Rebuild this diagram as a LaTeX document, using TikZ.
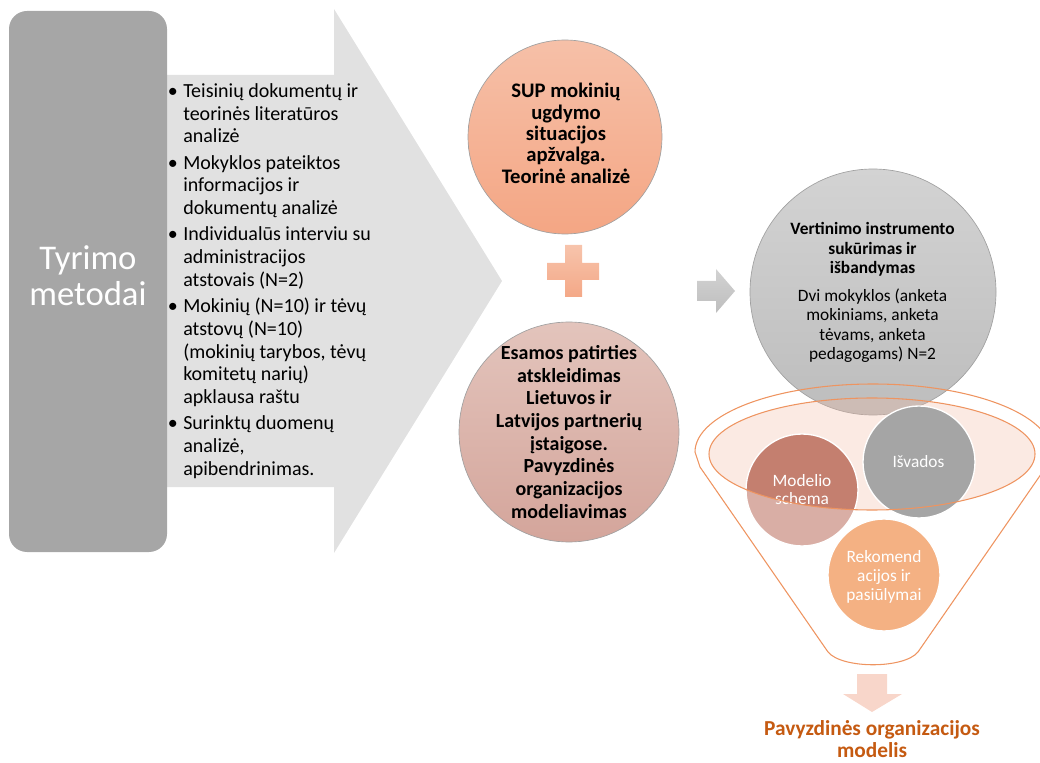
\documentclass[tikz,border=0pt]{standalone}
\usepackage{fontspec}
\setmainfont{Carlito}
\definecolor{rectgray}{HTML}{A6A6A6}
\definecolor{arrowgray}{HTML}{E1E1E1}
\definecolor{supTop}{HTML}{F6C0A8}
\definecolor{supBot}{HTML}{F4A684}
\definecolor{esTop}{HTML}{E3C4BC}
\definecolor{esBot}{HTML}{D4A59B}
\definecolor{plusTop}{HTML}{F7C4AC}
\definecolor{plusBot}{HTML}{F4A887}
\definecolor{smallTop}{HTML}{D2D2D2}
\definecolor{smallBot}{HTML}{BEBEBE}
\definecolor{verTop}{HTML}{D3D3D3}
\definecolor{verBot}{HTML}{BDBDBD}
\definecolor{peach}{HTML}{F1B9A2}
\definecolor{oline}{HTML}{EE9460}
\definecolor{modDark}{HTML}{C47F6F}
\definecolor{modLight}{HTML}{D9AEA5}
\definecolor{isvgray}{HTML}{A5A5A5}
\definecolor{rekom}{HTML}{F4B183}
\definecolor{downarrow}{HTML}{F8D6CA}
\definecolor{titleorange}{HTML}{C55A11}
\definecolor{circline}{HTML}{A0A0A0}
\tikzset{
  txt/.style={inner sep=0pt, anchor=base},
  smallcirc/.style={draw=white, line width=1pt},
  funnelline/.style={draw=oline, line width=0.8pt}
}
\begin{document}
\begin{tikzpicture}[x=0.75pt,y=-0.75pt]
\useasboundingbox (0,0) rectangle (1040,763);
% big arrow
\fill[arrowgray] (160,75) -- (334,75) -- (334,9) -- (502,281) -- (334,553) -- (334,487) -- (160,487) -- cycle;
% left rounded rectangle
\fill[rectgray, rounded corners=13.5pt] (9,11) rectangle (167,552);
\node[txt, text=white] (tm) at (88,270) {\parbox[t]{150pt}{\centering\fontsize{26}{27}\selectfont Tyrimo\\metodai\par}};
% bullets
\node[inner sep=0pt, anchor=base west] (bl) at (183,97.5) {\parbox[t]{200pt}{\raggedright\fontsize{15}{17}\selectfont\parskip=2.8pt
\noindent\llap{•\hspace{4pt}}Teisinių dokumentų ir\\teorinės literatūros\\analizė\par
\noindent\llap{•\hspace{4pt}}Mokyklos pateiktos\\informacijos ir\\dokumentų analizė\par
\noindent\llap{•\hspace{4pt}}Individualūs interviu su\\administracijos\\atstovais (N=2)\par
\noindent\llap{•\hspace{4pt}}Mokinių (N=10) ir tėvų\\atstovų (N=10)\\(mokinių tarybos, tėvų\\komitetų narių)\\apklausa raštu\par
\noindent\llap{•\hspace{4pt}}Surinktų duomenų\\analizė,\\apibendrinimas.\par}};
% SUP circle
\shade[top color=supTop, bottom color=supBot, draw=circline, line width=0.5pt] (565,137) circle[radius=97];
\node[txt] (sup) at (566,98) {\parbox[t]{160pt}{\centering\fontsize{15.5}{16}\selectfont\bfseries SUP mokinių\\ugdymo\\situacijos\\apžvalga.\\Teorinė analizė\par}};
% plus
\shade[top color=plusTop, bottom color=plusBot] (565,245) -- (582,245) -- (582,263) -- (599,263) -- (599,280) -- (582,280) -- (582,297) -- (565,297) -- (565,280) -- (547,280) -- (547,263) -- (565,263) -- cycle;
% Esamos circle
\shade[top color=esTop, bottom color=esBot, draw=circline, line width=0.5pt] (569,432) circle[radius=110];
\node[txt] (es) at (569,359.5) {\parbox[t]{180pt}{\centering\fontsize{15}{17}\selectfont\bfseries Esamos patirties\\atskleidimas\\Lietuvos ir\\Latvijos partnerių\\įstaigose.\\Pavyzdinės\\organizacijos\\modeliavimas\par}};
% small gray arrow
\shade[top color=smallTop, bottom color=smallBot] (697,281) -- (716,281) -- (716,269) -- (735,291) -- (716,313) -- (716,301) -- (697,301) -- cycle;
% gray circle
\shade[top color=verTop, bottom color=verBot, draw=circline, line width=0.5pt] (873,292) circle[radius=123];
\node[txt] (ver) at (872.5,235) {\parbox[t]{180pt}{\centering\fontsize{13}{14.6}\selectfont\textbf{Vertinimo instrumento\\sukūrimas ir\\išbandymas}\par\vspace{6pt}
Dvi mokyklos (anketa\\mokiniams, anketa\\tėvams, anketa\\pedagogams) N=2\par}};
% inner ellipse fill
\fill[peach, fill opacity=0.3] (872,454) ellipse[x radius=163, y radius=56];
% Modelio circle
\fill[modLight] (802,490) circle[radius=56];
\begin{scope}
\clip (872,454) ellipse[x radius=163, y radius=56];
\fill[modDark] (802,490) circle[radius=56];
\end{scope}
\draw[smallcirc] (802,490) circle[radius=56];
\node[txt, text=white] (mod) at (802,486) {\parbox[t]{100pt}{\centering\fontsize{13}{13.6}\selectfont Modelio\\schema\par}};
% Isvados circle
\filldraw[fill=isvgray, smallcirc] (919,462) circle[radius=56];
\node[txt, text=white] (isv) at (918.5,467) {\fontsize{13}{14}\selectfont Išvados};
% Rekomend circle
\filldraw[fill=rekom, smallcirc] (884,575) circle[radius=56];
\node[txt, text=white] (rek) at (884,562) {\parbox[t]{100pt}{\centering\fontsize{13}{14.4}\selectfont Rekomend\\acijos ir\\pasiūlymai\par}};
% ellipse outline
\draw[funnelline] (872,454) ellipse[x radius=163, y radius=56];
% funnel outline
\draw[funnelline] (700,467) -- (695,452) arc[start angle=180, end angle=360, x radius=178, y radius=68] -- (1046,467) -- (918,652) .. controls (904,669) and (842,669) .. (828,652) -- cycle;
% down arrow
\fill[downarrow] (857,674) -- (887,674) -- (887,694) -- (902,694) -- (872,712) -- (843,694) -- (857,694) -- cycle;
\node[txt, text=titleorange] (res) at (872,735) {\parbox[t]{250pt}{\centering\fontsize{16}{16.5}\selectfont\bfseries Pavyzdinės organizacijos\\modelis\par}};
\end{tikzpicture}
\end{document}
